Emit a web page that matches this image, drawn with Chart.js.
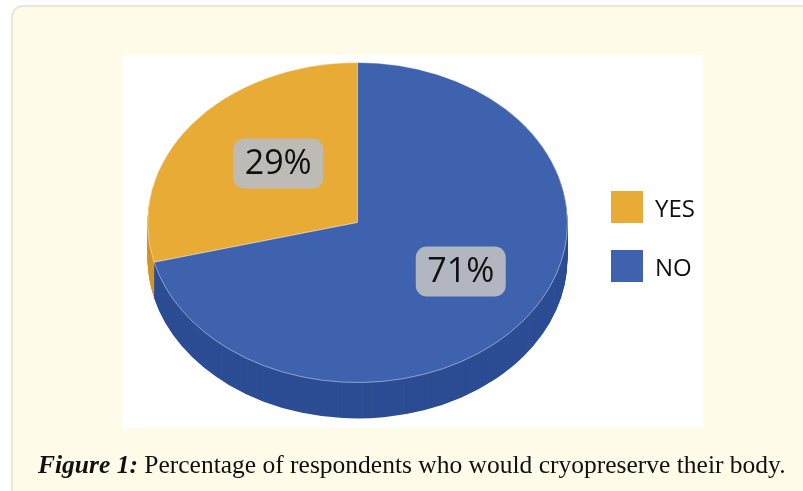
<!DOCTYPE html>
<html>
<head>
<meta charset="utf-8">
<script src="https://cdn.jsdelivr.net/npm/chart.js@4.4.0/dist/chart.umd.min.js"></script>
<style>
  html,body{margin:0;padding:0;background:#fff;width:803px;height:491px;overflow:hidden;}
  #card{position:absolute;left:11px;top:5px;width:820px;height:510px;background:#fefbe9;border:2px solid #ebe7d8;border-radius:12px;box-sizing:border-box;}
  #plot{position:absolute;left:122px;top:55px;width:581px;height:373px;background:#fff;}
  #wrap{position:absolute;left:122px;top:0;width:581px;height:491px;}
  #legend{position:absolute;left:611px;top:191px;font-family:"Open Sans";font-size:24px;color:#111;}
  .item{display:flex;align-items:center;height:32px;margin-bottom:27px;}
  .box{width:32px;height:32px;margin-right:12px;}
  #caption{position:absolute;left:38px;top:450px;font-family:"Liberation Serif";font-size:25.5px;color:#111;white-space:nowrap;}
</style>
</head>
<body>
<div id="card"></div>
<div id="plot"></div>
<div id="wrap"><canvas id="pieChart"></canvas></div>
<div id="legend"></div>
<div id="caption"><b><i>Figure 1:</i></b> Percentage of respondents who would cryopreserve their body.</div>

<script>
const labels = ["YES", "NO"];
const values = [29, 71];
const topColors = ["#E8AB35", "#3F62AE"];
const sideColors = ["#D19629", "#2C4D93"];

// 3d look: squash the pie and stack darker copies under it
const TILT = 0.762;
const DEPTH = 36;
const LABEL_SHIFT = {x: 12, y: -5};

const tiltPlugin = {
    id: "tilt",
    beforeDatasetsDraw(chart){
        const ctx = chart.ctx;
        const meta = chart.getDatasetMeta(0);
        const cx = meta.data[0].x, cy = meta.data[0].y;
        ctx.save();
        ctx.translate(cx, cy);
        ctx.scale(1, TILT);
        ctx.translate(-cx, -cy);
        for(let d = DEPTH; d > 0; d--){
            ctx.save();
            ctx.translate(0, d / TILT);
            meta.data.forEach((arc, i) => {
                const orig = arc.options;
                arc.options = Object.assign({}, orig, {backgroundColor: sideColors[i], borderWidth: 0});
                arc.draw(ctx);
                arc.options = orig;
            });
            ctx.restore();
        }
    },
    afterDatasetsDraw(chart){
        const ctx = chart.ctx;
        ctx.restore();
        const meta = chart.getDatasetMeta(0);
        ctx.save();
        ctx.font = "34px 'Open Sans'";
        ctx.textAlign = "center";
        ctx.textBaseline = "middle";
        meta.data.forEach((arc, i) => {
            const mid = (arc.startAngle + arc.endAngle) / 2;
            const r = arc.outerRadius * 0.55;
            const x = arc.x + Math.cos(mid) * r + LABEL_SHIFT.x;
            const y = arc.y + Math.sin(mid) * r * TILT + LABEL_SHIFT.y;
            const w = 90, h = 50;
            ctx.fillStyle = "rgba(186,188,194,0.93)";
            ctx.beginPath();
            ctx.roundRect(x - w/2, y - h/2, w, h, 11);
            ctx.fill();
            ctx.fillStyle = "#111";
            ctx.fillText(values[i] + "%", x, y + 1);
        });
        ctx.restore();
    }
};

new Chart(document.getElementById("pieChart"), {
    type: "pie",
    data: {
        labels: labels,
        datasets: [{
            data: values,
            backgroundColor: topColors,
            borderColor: "rgba(255,255,255,0.5)",
            borderWidth: 1,
            clip: false
        }]
    },
    options: {
        responsive: true,
        maintainAspectRatio: false,
        animation: false,
        rotation: -values[0] * 3.6,
        layout: {padding: {left: 25, top: 12, right: 135, bottom: 58}},
        plugins: {
            legend: {display: false},
            tooltip: {enabled: false}
        }
    },
    plugins: [tiltPlugin]
});

labels.forEach((lab, i) => {
    const row = `
        <div class="item">
            <div class="box" style="background:${topColors[i]}"></div>
            <span>${lab}</span>
        </div>
    `;
    document.getElementById("legend").insertAdjacentHTML("beforeend", row);
});
</script>
</body>
</html>
